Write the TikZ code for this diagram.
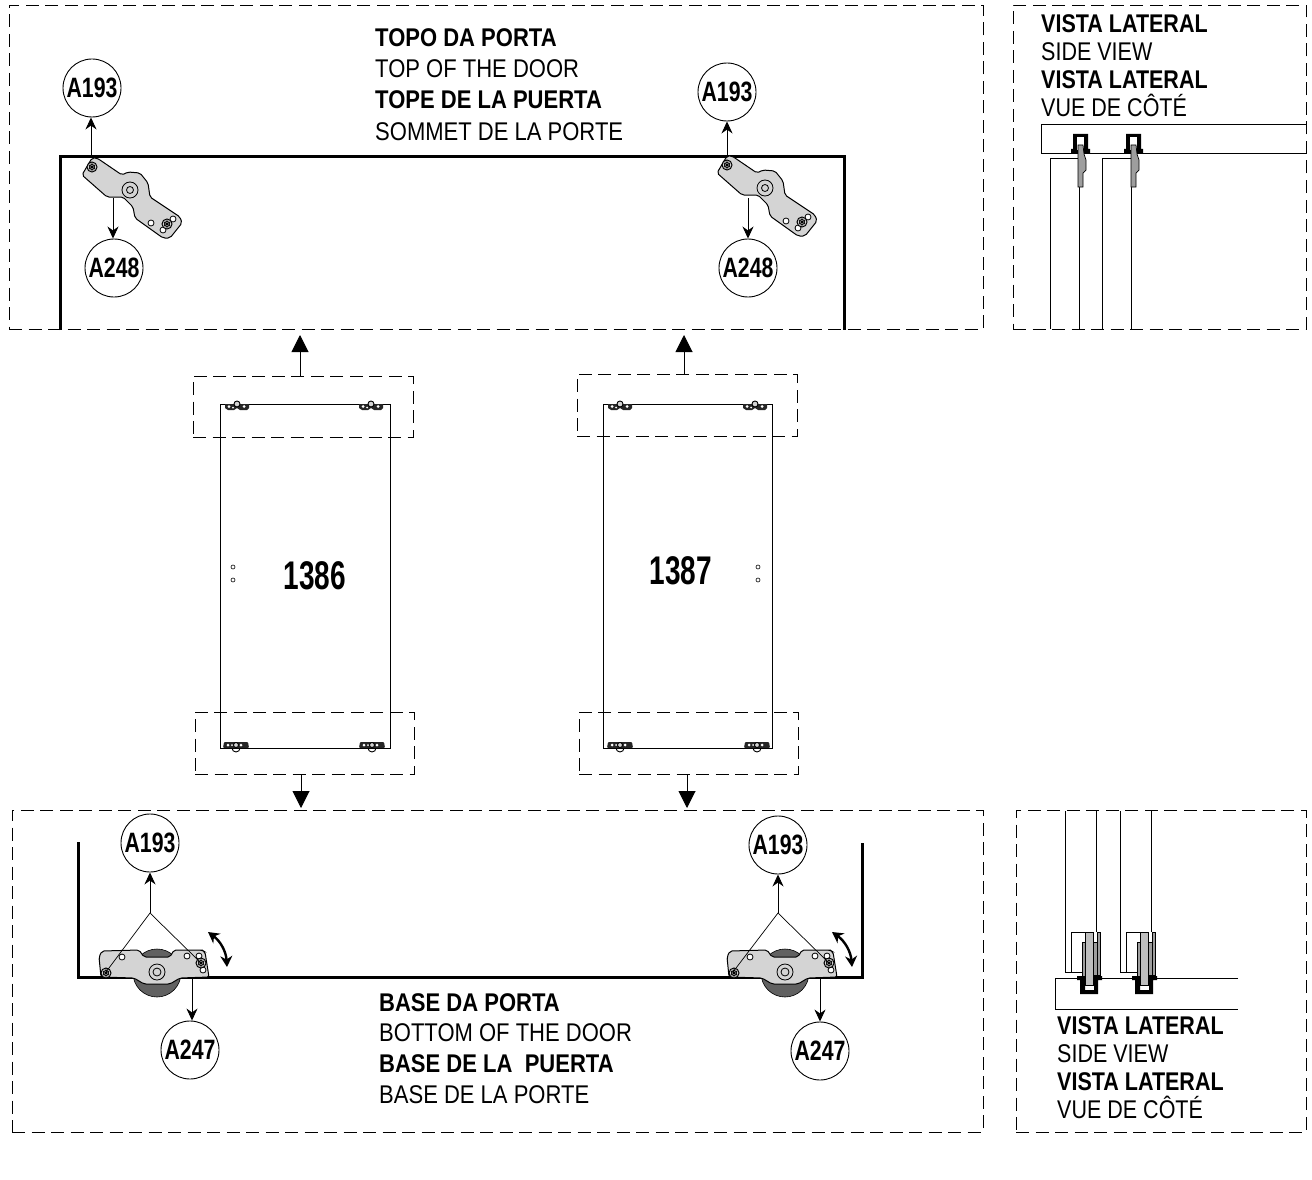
\documentclass[tikz,border=0pt]{standalone}
\usepackage{fontspec}
\usetikzlibrary{arrows.meta}
\setmainfont[FakeStretch=0.86]{Liberation Sans}
\newfontfamily\sideface[FakeStretch=0.84]{Liberation Sans}
\newfontfamily\narrowbold[FakeStretch=0.76]{Liberation Sans Bold}
\newfontfamily\numberbold[FakeStretch=0.7]{Liberation Sans Bold}
\definecolor{platefill}{gray}{0.83}
\definecolor{wheelfill}{gray}{0.38}
\definecolor{railfill}{gray}{0.62}
\tikzset{
  dashbox/.style={draw,line width=.9pt,dash pattern=on 13pt off 6.5pt,inner sep=0pt,outer sep=0pt},
  partlabel/.style={circle,draw,line width=0.9pt,minimum size=58pt,inner sep=0pt,font=\narrowbold\fontsize{28}{28}\selectfont},
  captiontext/.style={anchor=north west,align=left,inner sep=0pt,font=\fontsize{25.6}{31.4}\selectfont},
  lowertext/.style={captiontext,font=\fontsize{25.6}{30.7}\selectfont},
  sidetext/.style={captiontext,font=\sideface\fontsize{25.6}{28}\selectfont},
  doornumber/.style={font=\numberbold\fontsize{40}{40}\selectfont},
  smallarrow/.style={-{Stealth[length=12pt,width=11pt]},line width=0.9pt},
  bigarrow/.style={-{Triangle[length=17pt,width=17pt]},line width=1pt},
  swingarrow/.style={{Stealth[length=11pt,width=12pt]}-{Stealth[length=11pt,width=12pt]},line width=2.4pt},
  doorline/.style={line width=3pt,line join=miter},
  screw/.pic={
    \draw[fill=platefill,line width=1pt] (0,0) circle (5pt);
    \draw[line width=.7pt] (0,0) circle (2.6pt);
    \draw[line width=.7pt] (-3,-2) -- (3,2) (-3,2) -- (3,-2) (0,-4) -- (0,4);
  },
  topplate/.pic={
    \draw[fill=platefill,line width=1pt,rounded corners=2pt] (-38,-32) -- (-48,-15) -- (-23,7) -- (-7,7) -- (3,17) -- (5,28) -- (33,48) -- (40,48) -- (52,33) -- (50,27) -- (20,7) -- (18,-7) -- (10,-17) -- (-2,-18) -- (-8,-15) -- (-33,-32) -- cycle;
    \draw[fill=platefill,line width=.8pt] (0,0) circle (8pt);
    \draw[fill=platefill,line width=.8pt] (0,0) circle (3.5pt);
    \draw[fill=white,line width=.8pt] (21,33) circle (3pt) (43,29) circle (3pt) (33,40) circle (3pt);
    \pic at (-38,-23) {screw};
    \pic at (37,34) {screw};
  },
  bottomplate/.pic={
    \draw[fill=wheelfill,line width=.6pt] (0,1) circle (24pt);
    \draw[fill=platefill,line width=1pt,rounded corners=2pt] (-55,-21) -- (-58,-15) -- (-56,5) -- (-23,6) -- (-13,12) -- (13,12) -- (23,6) -- (52,5) -- (48,-20) -- (45,-22) -- (17,-22) -- (13,-15) -- (-13,-15) -- (-18,-22) -- cycle;
    \draw[fill=platefill,line width=.8pt] (0,0) circle (8pt);
    \draw[fill=platefill,line width=.8pt] (0,0) circle (4pt);
    \draw[fill=white,line width=.8pt] (-35,-15) circle (3pt) (30,-16) circle (3pt) (42,-16) circle (3pt) (46,-2) circle (3pt);
    \pic at (-51,1) {screw};
    \pic at (44,-9) {screw};
  },
  tinyhead/.pic={
    \fill[black!85] (-12,0) -- (-12,4) -- (-9,6) -- (-3,6) -- (0,4) -- (3,6) -- (10,6) -- (12,4) -- (12,0) -- cycle;
    \fill[white] (-8,2.5) circle (1.5pt) (-4,3.5) circle (1pt) (7,2.5) circle (1.5pt);
    \draw[fill=platefill,line width=.9pt] (0,0) circle (3pt);
  },
  tinyfoot/.pic={
    \draw[line width=.9pt] (0,3) circle (4pt);
    \fill[black!85,rounded corners=1pt] (-13,3) -- (-12,-3) -- (12,-3) -- (13,3) -- cycle;
    \fill[white] (-8,0) circle (1.5pt) (-4,0) circle (1pt) (5,0) circle (1.5pt);
    \draw[fill=platefill,line width=.9pt] (0,0) circle (2.5pt);
  },
  hanger/.pic={
    \fill[black] (-6,15) -- (-6,0) -- (9,0) -- (9,15) -- (11,15) -- (11,20) -- (-8,20) -- (-8,15) -- cycle;
    \fill[white] (-2,3) rectangle (5,16);
    \draw[fill=railfill,line width=.7pt] (-1,11) -- (4,11) -- (5,20) -- (7,26) -- (7,36) -- (4,39) -- (4,53) -- (-1,53) -- cycle;
  },
  carrier/.pic={
    \draw[fill=railfill,line width=.7pt] (12,0) rectangle (15,43);
    \draw[fill=railfill,line width=.7pt] (-3,10) rectangle (0,45);
    \draw[fill=railfill,line width=.7pt] (8,10) rectangle (12,43);
    \fill[black] (-8,44) -- (0,44) -- (0,58) -- (9,58) -- (9,44) -- (17,44) -- (17,48) -- (13,48) -- (13,62) -- (-5,62) -- (-5,48) -- (-8,48) -- cycle;
    \draw[fill=platefill!90!black,line width=.7pt] (0,0) rectangle (8,53);
  }
}
\begin{document}
\begin{tikzpicture}[x=1pt,y=-1pt]
  \useasboundingbox (0,0) rectangle (1312,1180);

  % big frames
  \node[dashbox,minimum width=974pt,minimum height=324pt] (topframe) at (496,167) {};
  \node[dashbox,minimum width=293pt,minimum height=324pt] (topside) at (1159.5,167) {};
  \node[dashbox,minimum width=971pt,minimum height=322pt] (bottomframe) at (497.5,971) {};
  \node[dashbox,minimum width=290pt,minimum height=322pt] (bottomside) at (1161,971) {};

  % small frames on the doors
  \node[dashbox,minimum width=220pt,minimum height=61pt] (headone) at (303,406.5) {};
  \node[dashbox,minimum width=220pt,minimum height=62pt] (headtwo) at (687,405) {};
  \node[dashbox,minimum width=219pt,minimum height=62pt] (footone) at (304.5,743) {};
  \node[dashbox,minimum width=219pt,minimum height=62pt] (foottwo) at (688.5,743) {};

  % door top
  \draw[doorline] (60,330) -- (60,157) -- (844,157) -- (844,330);
  \pic at (130,190) {topplate};
  \pic at (765,188) {topplate};
  \node[partlabel] (aonenine) at (92,88) {A193};
  \node[partlabel] (aoneninetwo) at (727,92) {A193};
  \node[partlabel] (atwofour) at (114,268) {A248};
  \node[partlabel] (atwofourtwo) at (748,268) {A248};
  \coordinate (screwone) at (91,157);
  \coordinate (screwtwo) at (727,157);
  \coordinate (plateone) at (113,198);
  \coordinate (platetwo) at (748,198);
  \draw[smallarrow] (screwone) -- (screwone |- aonenine.south);
  \draw[smallarrow] (screwtwo) -- (aoneninetwo);
  \draw[smallarrow] (plateone) -- (plateone |- atwofour.north);
  \draw[smallarrow] (platetwo) -- (atwofourtwo);

  \node[captiontext] (toptext) at (375,28) {\textbf{TOPO DA PORTA}\\TOP OF THE DOOR\\\textbf{TOPE DE LA PUERTA}\\SOMMET DE LA PORTE};

  % door bottom
  \draw[doorline] (78,842) -- (78,977) -- (862,977) -- (862,843);
  \pic at (157,972) {bottomplate};
  \pic at (785,972) {bottomplate};
  \node[partlabel] (afoot) at (150,843) {A193};
  \node[partlabel] (afoottwo) at (778,845) {A193};
  \node[partlabel] (awheel) at (190,1050) {A247};
  \node[partlabel] (awheeltwo) at (820,1051) {A247};
  \coordinate (apexone) at (150,913);
  \coordinate (apextwo) at (778,913);
  \coordinate (wheelone) at (192,977);
  \coordinate (wheeltwo) at (820,977);
  \draw[smallarrow] (apexone) -- (afoot);
  \draw[smallarrow] (apextwo) -- (afoottwo);
  \draw[line width=.7pt] (106,972) -- (apexone) -- (201,963);
  \draw[line width=.7pt] (733,972) -- (apextwo) -- (829,963);
  \draw[smallarrow] (wheelone) -- (wheelone |- awheel.north);
  \draw[smallarrow] (wheeltwo) -- (awheeltwo);
  \draw[swingarrow] (208,932) to[bend left=25] (227,967);
  \draw[swingarrow] (832,932) to[bend left=25] (852,967);

  \node[lowertext] (bottomtext) at (379,993) {\textbf{BASE DA PORTA}\\BOTTOM OF THE DOOR\\\textbf{BASE DE LA\ \ PUERTA}\\BASE DE LA PORTE};

  % the two doors
  \node[draw,line width=1pt,minimum width=170pt,minimum height=344pt,inner sep=0pt] (doorone) at (305,576) {};
  \node[draw,line width=1pt,minimum width=169pt,minimum height=344pt,inner sep=0pt] (doortwo) at (687.5,576) {};
  \node[doornumber] (numone) at (315,576) {1386};
  \node[doornumber] (numtwo) at (681,571) {1387};
  \foreach \hx/\hy in {233/567,233/580,758/567,758/580}
    \draw[line width=.6pt] (\hx,\hy) circle (2pt);
  \foreach \hx in {237,371,620,755}
    \pic at (\hx,404) {tinyhead};
  \foreach \hx in {236,372,620,757}
    \pic at (\hx,745) {tinyfoot};

  \coordinate (hitone) at (300,335);
  \coordinate (hittwo) at (684,335);
  \coordinate (downone) at (301,808);
  \coordinate (downtwo) at (687,808);
  \draw[bigarrow] (hitone |- headone.north) -- (hitone);
  \draw[bigarrow] (hittwo |- headtwo.north) -- (hittwo);
  \draw[bigarrow] (downone |- footone.south) -- (downone);
  \draw[bigarrow] (downtwo |- foottwo.south) -- (downtwo);

  % side views
  \node[sidetext] (topsidetext) at (1041,14.5) {\textbf{VISTA LATERAL}\\SIDE VIEW\\\textbf{VISTA LATERAL}\\VUE DE CÔTÉ};
  \draw[line width=.9pt] (1306,124) -- (1041,124) -- (1041,153) -- (1306,153);
  \draw[line width=.9pt] (1050,329) -- (1050,158) -- (1079,158) -- (1079,329);
  \draw[line width=.9pt] (1102,329) -- (1102,158) -- (1131,158) -- (1131,329);
  \pic at (1079,134) {hanger};
  \pic at (1132,134) {hanger};

  \node[sidetext] (bottomsidetext) at (1057,1016) {\textbf{VISTA LATERAL}\\SIDE VIEW\\\textbf{VISTA LATERAL}\\VUE DE CÔTÉ};
  \draw[line width=.9pt] (1238,978) -- (1055,978) -- (1055,1009) -- (1238,1009);
  \draw[line width=.9pt] (1065,811) -- (1065,972) -- (1082,972) (1096,811) -- (1096,932);
  \draw[line width=.9pt] (1120,811) -- (1120,972) -- (1137,972) (1151,811) -- (1151,932);
  \draw[line width=.9pt] (1071,972) -- (1071,932) -- (1086,932);
  \draw[line width=.9pt] (1126,972) -- (1126,932) -- (1141,932);
  \pic at (1085,932) {carrier};
  \pic at (1140,932) {carrier};
\end{tikzpicture}
\end{document}
